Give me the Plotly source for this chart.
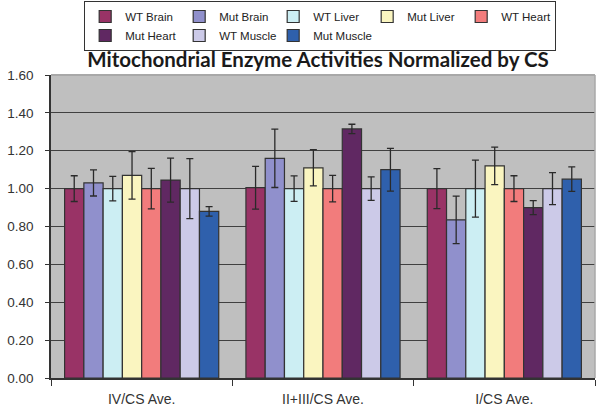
import plotly.graph_objects as go

categories = ["IV/CS Ave.", "II+III/CS Ave.", "I/CS Ave."]

series_names = ["WT Brain", "Mut Brain", "WT Liver", "Mut Liver",
                "WT Heart", "Mut Heart", "WT Muscle", "Mut Muscle"]

wt_brain = [1.00, 1.005, 1.00]
mut_brain = [1.03, 1.16, 0.835]
wt_liver = [1.00, 1.00, 1.00]
mut_liver = [1.07, 1.11, 1.12]
wt_heart = [1.00, 1.00, 1.00]
mut_heart = [1.045, 1.315, 0.90]
wt_muscle = [1.00, 1.00, 1.00]
mut_muscle = [0.88, 1.10, 1.05]

wt_brain_err = [0.068, 0.113, 0.106]
mut_brain_err = [0.069, 0.154, 0.125]
wt_liver_err = [0.065, 0.067, 0.151]
mut_liver_err = [0.125, 0.096, 0.099]
wt_heart_err = [0.107, 0.070, 0.068]
mut_heart_err = [0.116, 0.025, 0.037]
wt_muscle_err = [0.158, 0.062, 0.085]
mut_muscle_err = [0.025, 0.113, 0.065]

y_ticks = [0.0, 0.2, 0.4, 0.6, 0.8, 1.0, 1.2, 1.4, 1.6]
y_tick_labels = ["0.00", "0.20", "0.40", "0.60", "0.80", "1.00", "1.20", "1.40", "1.60"]

colors = ["#993366", "#9090CC", "#CCEEF3", "#FAF5C0",
          "#F27C7C", "#602862", "#CCCAE8", "#2F60AC"]

values = [wt_brain, mut_brain, wt_liver, mut_liver,
          wt_heart, mut_heart, wt_muscle, mut_muscle]
errors = [wt_brain_err, mut_brain_err, wt_liver_err, mut_liver_err,
          wt_heart_err, mut_heart_err, wt_muscle_err, mut_muscle_err]

FONT = "Liberation Sans, Arial, sans-serif"

fig = go.Figure()
for name, vals, errs, col in zip(series_names, values, errors, colors):
    fig.add_trace(go.Bar(
        name=name, x=categories, y=vals,
        marker=dict(color=col, line=dict(color="#333333", width=1.2)),
        error_y=dict(type="data", array=errs, visible=True,
                     color="#2a2a2a", thickness=1.3, width=3.5),
    ))

fig.update_layout(
    width=600, height=410,
    margin=dict(l=51, r=5, t=75, b=32, autoexpand=False),
    paper_bgcolor="white",
    plot_bgcolor="#bfbfbf",
    barmode="group",
    bargap=0.15,
    bargroupgap=0,
    font=dict(family=FONT, size=13, color="#333333"),
    title=dict(
        text="Mitochondrial Enzyme Activities Normalized by CS",
        font=dict(family="Lato, Carlito, sans-serif", size=20.5, color="#1a1a1a", weight="bold"),
        x=0.53, xanchor="center", xref="container",
        y=1 - 60 / 410, yanchor="middle", yref="container",
    ),
    legend=dict(
        orientation="h",
        x=0.061, xanchor="left", xref="paper",
        y=1 - 1 / 410, yanchor="top", yref="container",
        entrywidth=49, entrywidthmode="pixels",
        bgcolor="white", bordercolor="#333333", borderwidth=1,
        font=dict(family=FONT, size=11.5, color="#222222"),
        traceorder="normal",
    ),
    showlegend=True,
)

fig.update_xaxes(
    type="category",
    showgrid=False,
    showline=True, linecolor="#333333", linewidth=1.5,
    ticks="outside", tickson="boundaries", ticklen=6, tickcolor="#333333", tickwidth=1.3,
    tickfont=dict(family=FONT, size=14, color="#333333"),
    ticklabelstandoff=7,
)
fig.update_yaxes(
    range=[0, 1.6],
    tickvals=y_ticks, ticktext=y_tick_labels,
    showgrid=True, gridcolor="#404040", gridwidth=1.3,
    zeroline=False,
    showline=True, linecolor="#333333", linewidth=1.5,
    ticks="outside", ticklen=4, tickcolor="#333333", tickwidth=1.3,
    tickfont=dict(family=FONT, size=13.5, color="#333333"),
    ticklabelstandoff=9,
)

# light plot-area border on top and right
fig.add_shape(type="line", xref="paper", yref="paper", x0=0, x1=1, y0=1, y1=1,
              line=dict(color="#a8a8a8", width=2), layer="above")
fig.add_shape(type="line", xref="paper", yref="paper", x0=1, x1=1, y0=0, y1=1,
              line=dict(color="#a8a8a8", width=1.5), layer="above")

fig.write_html("out.html",
               config={"displayModeBar": False},
               post_script="document.body.style.margin='0px';document.body.style.overflow='hidden';")
